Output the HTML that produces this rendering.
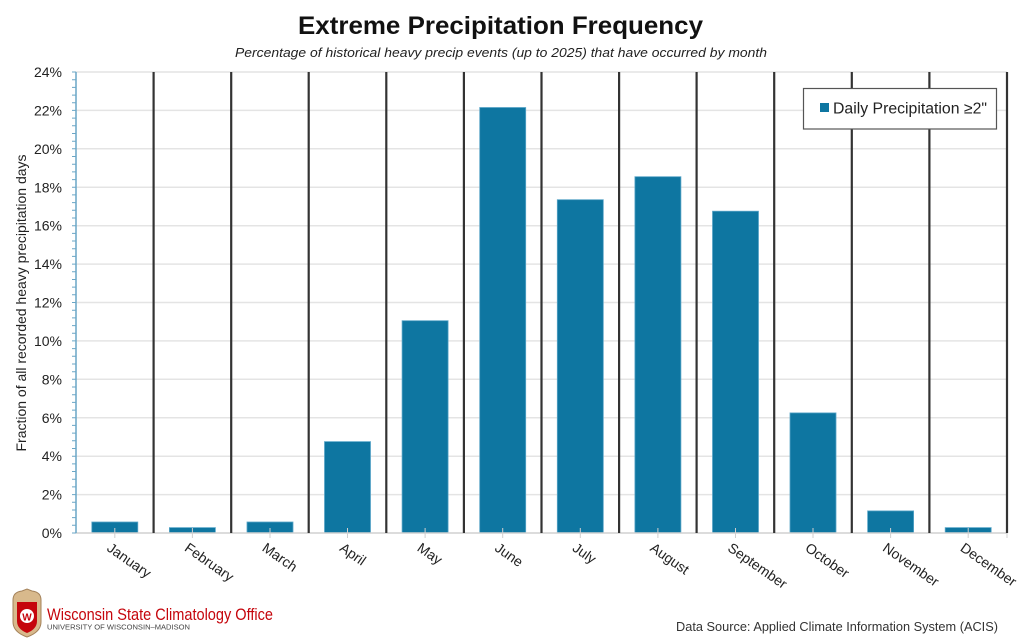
<!DOCTYPE html>
<html><head><meta charset="utf-8"><style>
html,body{margin:0;padding:0;background:#fff;}
svg{display:block;font-family:"Liberation Sans",sans-serif;}
</style></head><body>
<svg width="1024" height="639" viewBox="0 0 1024 639" xmlns="http://www.w3.org/2000/svg">
<rect width="1024" height="639" fill="#fff"/>
<text x="298" y="34" textLength="405" lengthAdjust="spacingAndGlyphs" font-size="25" font-weight="bold" fill="#111">Extreme Precipitation Frequency</text>
<text x="235" y="57" textLength="532" lengthAdjust="spacingAndGlyphs" font-size="13" font-style="italic" fill="#222">Percentage of historical heavy precip events (up to 2025) that have occurred by month</text>
<g stroke="#e4e4e4" stroke-width="1.5">
<line x1="76" x2="1007" y1="72" y2="72"/>
<line x1="76" x2="1007" y1="110.4" y2="110.4"/>
<line x1="76" x2="1007" y1="148.8" y2="148.8"/>
<line x1="76" x2="1007" y1="187.3" y2="187.3"/>
<line x1="76" x2="1007" y1="225.7" y2="225.7"/>
<line x1="76" x2="1007" y1="264.1" y2="264.1"/>
<line x1="76" x2="1007" y1="302.5" y2="302.5"/>
<line x1="76" x2="1007" y1="340.9" y2="340.9"/>
<line x1="76" x2="1007" y1="379.3" y2="379.3"/>
<line x1="76" x2="1007" y1="417.8" y2="417.8"/>
<line x1="76" x2="1007" y1="456.2" y2="456.2"/>
<line x1="76" x2="1007" y1="494.6" y2="494.6"/>
</g>
<g fill="#0e76a1" stroke="#5aa6c8" stroke-width="0.8">
<rect x="91.8" y="522" width="46" height="11"/>
<rect x="169.4" y="527.6" width="46" height="5.4"/>
<rect x="247" y="522" width="46" height="11"/>
<rect x="324.5" y="441.6" width="46" height="91.4"/>
<rect x="402.1" y="320.7" width="46" height="212.3"/>
<rect x="479.7" y="107.5" width="46" height="425.5"/>
<rect x="557.3" y="199.7" width="46" height="333.3"/>
<rect x="634.9" y="176.7" width="46" height="356.3"/>
<rect x="712.5" y="211.2" width="46" height="321.8"/>
<rect x="790" y="412.9" width="46" height="120.1"/>
<rect x="867.6" y="510.9" width="46" height="22.1"/>
<rect x="945.2" y="527.6" width="46" height="5.4"/>
</g>
<line x1="76" x2="1007" y1="533" y2="533" stroke="#d0d0d0" stroke-width="1.5"/>
<g stroke="#cfcfcf" stroke-width="1">
<line x1="114.8" x2="114.8" y1="528" y2="538"/><line x1="192.4" x2="192.4" y1="528" y2="538"/><line x1="270" x2="270" y1="528" y2="538"/><line x1="347.5" x2="347.5" y1="528" y2="538"/><line x1="425.1" x2="425.1" y1="528" y2="538"/><line x1="502.7" x2="502.7" y1="528" y2="538"/><line x1="580.3" x2="580.3" y1="528" y2="538"/><line x1="657.9" x2="657.9" y1="528" y2="538"/><line x1="735.5" x2="735.5" y1="528" y2="538"/><line x1="813" x2="813" y1="528" y2="538"/><line x1="890.6" x2="890.6" y1="528" y2="538"/><line x1="968.2" x2="968.2" y1="528" y2="538"/><line x1="1007" x2="1007" y1="528" y2="538"/>
</g>
<g stroke="#333" stroke-width="2.2">
<line x1="153.6" x2="153.6" y1="72" y2="533"/><line x1="231.2" x2="231.2" y1="72" y2="533"/><line x1="308.7" x2="308.7" y1="72" y2="533"/><line x1="386.3" x2="386.3" y1="72" y2="533"/><line x1="463.9" x2="463.9" y1="72" y2="533"/><line x1="541.5" x2="541.5" y1="72" y2="533"/><line x1="619.1" x2="619.1" y1="72" y2="533"/><line x1="696.6" x2="696.6" y1="72" y2="533"/><line x1="774.2" x2="774.2" y1="72" y2="533"/><line x1="851.8" x2="851.8" y1="72" y2="533"/><line x1="929.4" x2="929.4" y1="72" y2="533"/><line x1="1007" x2="1007" y1="72" y2="533"/>
</g>
<line x1="76" x2="76" y1="72" y2="533" stroke="#6aa6c6" stroke-width="1.5"/>
<g stroke="#6aa6c6" stroke-width="1">
<path d="M72 72h4M72 79.7h4M72 87.4h4M72 95.1h4M72 102.7h4M72 110.4h4M72 118.1h4M72 125.8h4M72 133.5h4M72 141.2h4M72 148.8h4M72 156.5h4M72 164.2h4M72 171.9h4M72 179.6h4M72 187.3h4M72 194.9h4M72 202.6h4M72 210.3h4M72 218h4M72 225.7h4M72 233.4h4M72 241h4M72 248.7h4M72 256.4h4M72 264.1h4M72 271.8h4M72 279.5h4M72 287.1h4M72 294.8h4M72 302.5h4M72 310.2h4M72 317.9h4M72 325.6h4M72 333.2h4M72 340.9h4M72 348.6h4M72 356.3h4M72 364h4M72 371.7h4M72 379.3h4M72 387h4M72 394.7h4M72 402.4h4M72 410.1h4M72 417.8h4M72 425.4h4M72 433.1h4M72 440.8h4M72 448.5h4M72 456.2h4M72 463.9h4M72 471.5h4M72 479.2h4M72 486.9h4M72 494.6h4M72 502.3h4M72 510h4M72 517.6h4M72 525.3h4M72 533h4"/>
</g>
<g font-size="14" fill="#222" text-anchor="end">
<text x="62" y="77">24%</text><text x="62" y="115.4">22%</text><text x="62" y="153.8">20%</text><text x="62" y="192.3">18%</text><text x="62" y="230.7">16%</text><text x="62" y="269.1">14%</text><text x="62" y="307.5">12%</text><text x="62" y="345.9">10%</text><text x="62" y="384.3">8%</text><text x="62" y="422.8">6%</text><text x="62" y="461.2">4%</text><text x="62" y="499.6">2%</text><text x="62" y="538">0%</text>
</g>
<text transform="translate(26,303) rotate(-90)" text-anchor="middle" font-size="13.5" textLength="297" lengthAdjust="spacingAndGlyphs" fill="#222">Fraction of all recorded heavy precipitation days</text>
<g font-size="14" fill="#222">
<text transform="translate(106,550) rotate(35)">January</text>
<text transform="translate(183.6,550) rotate(35)">February</text>
<text transform="translate(261.2,550) rotate(35)">March</text>
<text transform="translate(338.7,550) rotate(35)">April</text>
<text transform="translate(416.3,550) rotate(35)">May</text>
<text transform="translate(493.9,550) rotate(35)">June</text>
<text transform="translate(571.5,550) rotate(35)">July</text>
<text transform="translate(649.1,550) rotate(35)">August</text>
<text transform="translate(726.7,550) rotate(35)">September</text>
<text transform="translate(804.2,550) rotate(35)">October</text>
<text transform="translate(881.8,550) rotate(35)">November</text>
<text transform="translate(959.4,550) rotate(35)">December</text>
</g>
<rect x="803.5" y="88.5" width="193" height="40.5" fill="#fff" stroke="#555" stroke-width="1.2"/>
<rect x="820" y="103" width="9" height="9" fill="#0e76a1"/>
<text x="833" y="113.5" font-size="15.5" textLength="154" lengthAdjust="spacingAndGlyphs" fill="#222">Daily Precipitation ≥2"</text>
<g>
<path d="M13 600 Q13 592 22 591 L27 589 L32 591 Q41 592 41 600 L41 622 Q41 632 27 637 Q13 632 13 622 Z" fill="#d8b98c" stroke="#a4825a" stroke-width="1"/>
<path d="M17 602 L37 602 L37 621 Q37 629 27 633 Q17 629 17 621 Z" fill="#c5050c"/>
<circle cx="27" cy="616" r="7" fill="#fff"/>
<text x="27" y="620.5" text-anchor="middle" font-size="10" font-weight="bold" fill="#c5050c">W</text>
</g>
<text x="47" y="620" font-size="17" textLength="226" lengthAdjust="spacingAndGlyphs" fill="#c5050c">Wisconsin State Climatology Office</text>
<text x="47" y="629.5" font-size="7.6" textLength="143" lengthAdjust="spacingAndGlyphs" fill="#444">UNIVERSITY OF WISCONSIN–MADISON</text>
<text x="676" y="631" font-size="13" textLength="322" lengthAdjust="spacingAndGlyphs" fill="#333">Data Source: Applied Climate Information System (ACIS)</text>
</svg>
</body></html>
